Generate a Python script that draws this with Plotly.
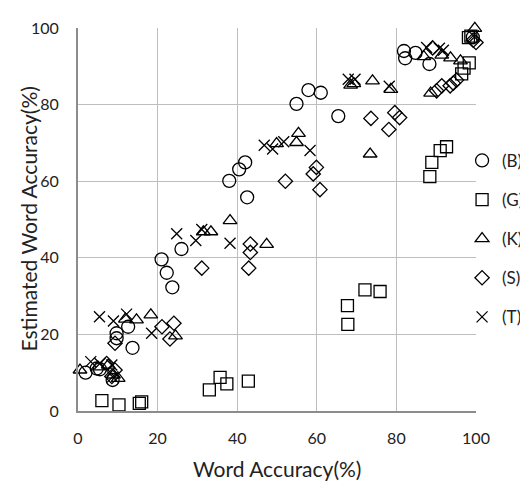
import plotly.graph_objects as go

# (B) circles
b_x = [1.9, 4.7, 5.5, 8.7, 9.7, 9.7, 12.6, 13.7, 21.0, 22.3, 23.7, 26.0, 38.0, 40.5, 42.0, 42.5,
       54.9, 57.9, 61.0, 65.4, 81.9, 82.2, 84.8, 88.3, 99.2]
b_y = [10.0, 11.1, 10.9, 8.1, 20.3, 19.0, 22.0, 16.5, 39.6, 36.1, 32.3, 42.3, 60.1, 63.1, 64.9, 55.8,
       80.2, 83.8, 83.1, 77.0, 94.0, 92.1, 93.5, 90.6, 97.6]
# (G) squares
g_x = [6.0, 10.3, 15.4, 16.0, 33.0, 35.7, 37.4, 42.8, 67.8, 67.7, 72.1, 75.9, 88.4, 88.9, 91.0, 92.6,
       96.4, 97.0, 98.3, 98.1, 98.7]
g_y = [2.7, 1.6, 2.0, 2.4, 5.5, 8.8, 7.1, 7.8, 22.6, 27.5, 31.6, 31.2, 61.2, 64.9, 68.0, 69.0,
       88.0, 89.5, 90.9, 97.5, 97.9]
# (K) triangles
k_x = [0.5, 5.0, 7.6, 8.9, 10.1, 11.9, 14.7, 18.3, 24.5, 31.5, 33.4, 38.2, 47.4, 49.9, 54.9, 55.4,
       68.5, 69.3, 73.4, 74.0, 78.6, 86.9, 88.6, 91.4, 93.6, 96.1, 99.7]
k_y = [10.7, 11.5, 12.0, 9.4, 8.5, 24.0, 23.8, 25.1, 19.6, 46.8, 46.8, 49.7, 43.5, 69.8, 70.1, 72.5,
       85.1, 85.5, 67.1, 86.2, 84.0, 92.5, 83.0, 92.9, 92.2, 91.4, 99.9]
# (S) diamonds
s_x = [7.2, 9.3, 8.5, 9.3, 21.1, 24.1, 23.1, 31.1, 43.3, 43.3, 42.9, 52.1, 59.9, 59.1, 60.8,
       73.6, 79.6, 80.8, 78.1, 89.1, 90.1, 91.4, 93.5, 94.3, 95.1, 99.3, 100.0]
s_y = [12.4, 10.7, 9.0, 17.7, 22.0, 22.9, 18.8, 37.3, 43.6, 41.4, 37.3, 60.0, 63.6, 61.9, 57.8,
       76.4, 77.9, 76.6, 73.5, 94.8, 83.6, 84.9, 84.9, 85.6, 86.4, 96.8, 96.2]
# (T) crosses
t_x = [3.2, 5.5, 8.5, 8.7, 5.4, 8.9, 12.2, 18.5, 24.8, 29.6, 31.1, 38.2, 46.8, 48.9, 51.7, 58.3,
       67.9, 69.6, 78.2, 87.6, 90.8, 91.8, 99.3]
t_y = [12.9, 12.4, 12.0, 8.9, 24.6, 23.5, 25.3, 20.3, 46.3, 44.5, 47.4, 43.8, 69.4, 68.4, 70.3, 68.0,
       86.6, 86.6, 84.8, 94.9, 94.7, 94.2, 98.0]

x_title = "Word Accuracy(%)"
y_title = "Estimated Word Accuracy(%)"

series = [
    ("(B)", b_x, b_y, "circle-open", 13),
    ("(G)", g_x, g_y, "square-open", 12),
    ("(K)", k_x, k_y, "triangle-up-open", 12),
    ("(S)", s_x, s_y, "diamond-open", 11),
    ("(T)", t_x, t_y, "x-thin-open", 11),
]

fig = go.Figure()
for name, xs, ys, sym, sz in series:
    fig.add_trace(go.Scatter(
        x=xs, y=ys, mode="markers", name=name, legendgroup=name,
        marker=dict(symbol=sym, size=sz, color="black", line=dict(color="black", width=1.3)),
        cliponaxis=False,
    ))

font = "Lato, 'Open Sans', sans-serif"
fig.update_layout(
    width=520, height=477,
    margin=dict(l=70, r=52, t=20, b=74, autoexpand=False),
    paper_bgcolor="white", plot_bgcolor="white",
    font=dict(family=font, size=16, color="#222"),
    showlegend=True,
    legend=dict(x=0.965, xanchor="left", y=0.70, yanchor="top", tracegroupgap=14,
                font=dict(size=17, family=font, color="#222"), bgcolor="rgba(0,0,0,0)",
                itemwidth=30),
    xaxis=dict(range=[0, 100], dtick=20, showgrid=True, gridcolor="#BEBEBE", gridwidth=1.2,
               zeroline=False, showline=True, linecolor="#8C8C8C", linewidth=2,
               ticks="outside", ticklen=12, tickcolor="rgba(0,0,0,0)", automargin=False,
               fixedrange=True),
    yaxis=dict(range=[0, 100], dtick=20, showgrid=True, gridcolor="#BEBEBE", gridwidth=1.2,
               zeroline=False, showline=True, linecolor="#8C8C8C", linewidth=2,
               ticks="outside", ticklen=14, tickcolor="rgba(0,0,0,0)", automargin=False,
               fixedrange=True),
    annotations=[
        dict(text=x_title, xref="paper", yref="paper", x=0.5, y=-0.1514,
             xanchor="center", yanchor="middle", showarrow=False,
             font=dict(size=21, family=font, color="#222")),
        dict(text=y_title, xref="paper", yref="paper", x=-0.1256, y=0.5,
             xanchor="center", yanchor="middle", showarrow=False, textangle=-90,
             font=dict(size=21, family=font, color="#222")),
    ],
)
fig.write_html("out.html")
